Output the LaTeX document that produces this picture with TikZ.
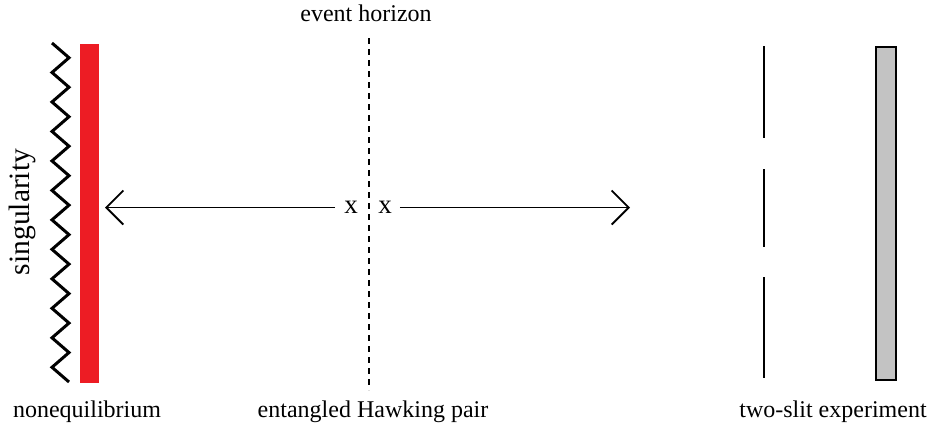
\documentclass[tikz,border=0pt]{standalone}
\usepackage{fontspec}
\setmainfont{Liberation Serif}
\usetikzlibrary{arrows.meta}
\definecolor{barred}{HTML}{ED1C24}
\definecolor{screengray}{HTML}{C3C3C3}
\begin{document}
\begin{tikzpicture}[x=1pt,y=-1pt,
  lbl/.style={font=\fontsize{24}{28}\selectfont, inner sep=0pt, anchor=base},
  xmark/.style={font=\fontsize{27}{30}\selectfont, inner sep=0pt, anchor=center},
  conn/.style={line width=1.8pt, -{Straight Barb[length=17pt,width=34pt,line width=1.8pt]}},
  slit/.style={line width=2.5pt},
  zig/.style={line width=3pt, line join=miter},
  horizon/.style={line width=1.8pt, dash pattern=on 6pt off 5pt}]
\useasboundingbox (0,0) rectangle (930,432);

% singularity zigzag
\draw[zig] (52,43) \foreach \i in {0,...,10} { -- (69,{57.74+\i*29.48}) -- (52,{72.48+\i*29.48}) } -- (69,382);

% red nonequilibrium bar
\node[fill=barred, draw=none, minimum width=19pt, minimum height=339pt, inner sep=0pt, anchor=north west] (bar) at (80,44) {};

% event horizon
\coordinate (ehtop) at (369,38);
\coordinate (ehbot) at (369,390);
\draw[horizon] (ehtop) -- (ehbot);

% Hawking pair
\node[xmark] (xl) at (351,207.5) {x};
\node[xmark] (xr) at (385,207.5) {x};
\coordinate (lefttip) at (105,207.5);
\coordinate (righttip) at (630,207.5);
\draw[conn] ([xshift=-9pt]xl.west) -- (lefttip);
\draw[conn] ([xshift=8pt]xr.east) -- (righttip);

% two-slit barrier
\draw[slit] (764,46) -- (764,138);
\draw[slit] (764,169) -- (764,247);
\draw[slit] (764,277) -- (764,378);

% screen
\node[draw, line width=2pt, fill=screengray, minimum width=20pt, minimum height=333pt, inner sep=0pt, anchor=north west] (screen) at (875,46) {};

% labels
\node[lbl] (lblhorizon) at (366,21) {event horizon};
\node[lbl] (lblneq) at (87,417) {nonequilibrium};
\node[lbl] (lblpair) at (373,417) {entangled Hawking pair};
\node[lbl] (lbltwoslit) at (833,417) {two-slit experiment};
\node[font=\fontsize{29.5}{34}\selectfont, inner sep=0pt, anchor=base, rotate=90] (lblsing) at (30,212) {singularity};
\end{tikzpicture}
\end{document}
